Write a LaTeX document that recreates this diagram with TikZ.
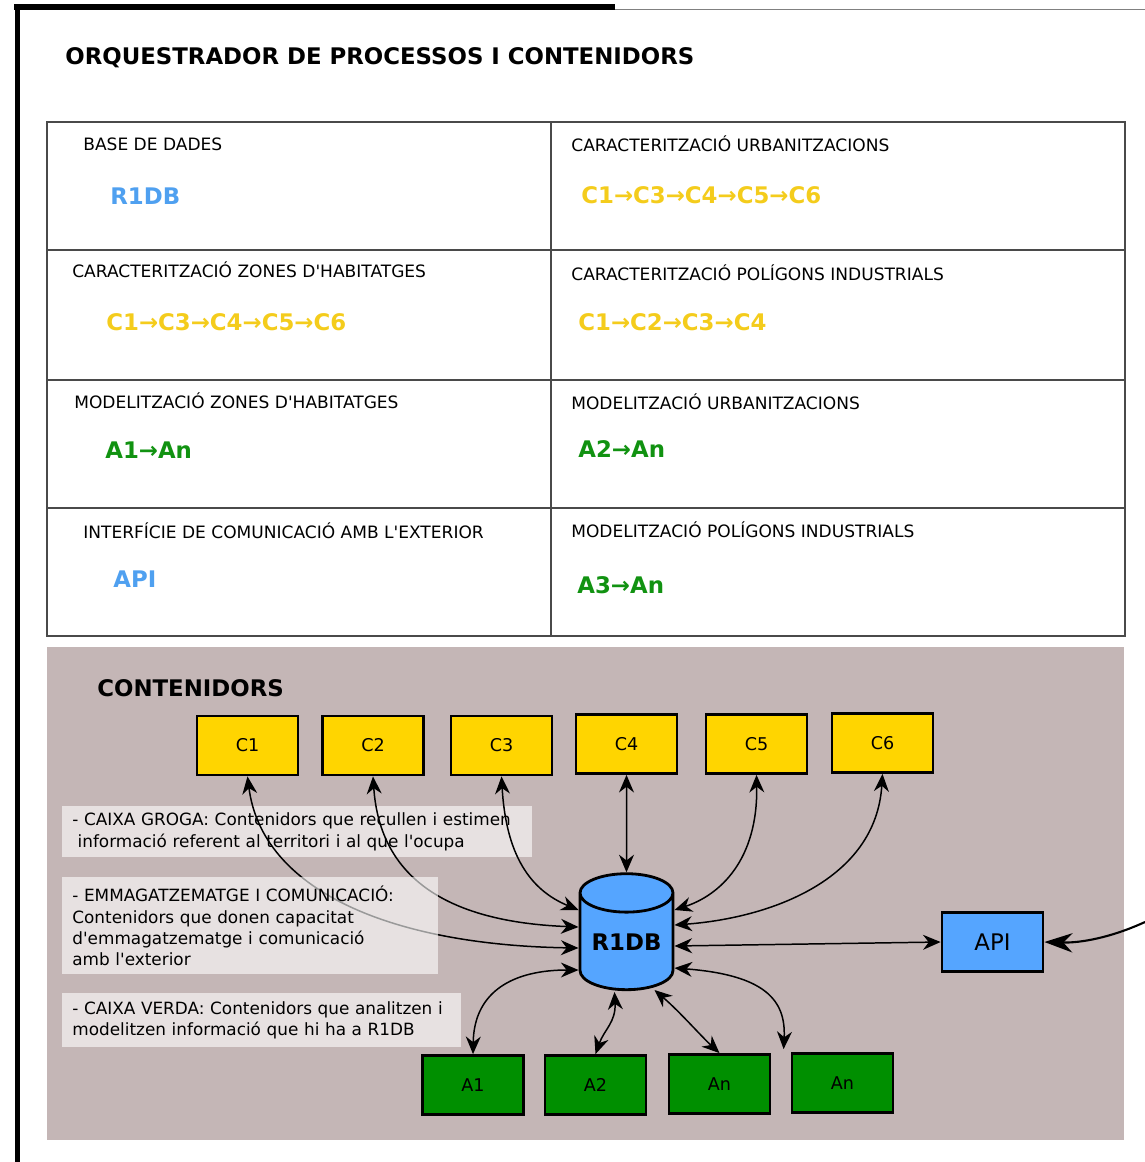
\documentclass[tikz,border=0pt]{standalone}
\usepackage{fontspec}
\setmainfont{DejaVu Sans}
\usetikzlibrary{shapes.geometric,arrows.meta,calc}
\definecolor{boxyellow}{HTML}{FFD500}
\definecolor{seqyellow}{HTML}{F4CC1C}
\definecolor{dbblue}{HTML}{55A5FF}
\definecolor{txtblue}{HTML}{4FA0F0}
\definecolor{boxgreen}{HTML}{008F00}
\definecolor{txtgreen}{HTML}{119211}
\definecolor{panel}{HTML}{C4B6B6}
\definecolor{gridline}{HTML}{4A4A4A}
\newcommand{\cellfont}{\fontsize{9.7}{11}\selectfont}
\newcommand{\seqfont}{\fontsize{13}{15}\selectfont\bfseries}
\newcommand{\ap}{\textquotesingle}
\begin{document}
\begin{tikzpicture}[x=0.02cm, y=-0.02cm,
  celltext/.style={anchor=base west, inner sep=0pt, font=\cellfont},
  seqtext/.style={anchor=base west, inner sep=0pt, font=\seqfont},
  cbox/.style={draw=black, line width=1.6pt, fill=boxyellow, minimum width=2.02cm,
    minimum height=1.18cm, inner sep=0pt, font=\fontsize{10}{12}\selectfont},
  abox/.style={cbox, fill=boxgreen},
  link/.style={{Stealth[length=10pt,width=8.5pt]}-{Stealth[length=10pt,width=8.5pt]}, line width=0.85pt},
  note/.style={anchor=north west, fill=white, fill opacity=0.6, text opacity=1, align=left,
    inner xsep=0.2cm, inner ysep=0pt, font=\fontsize{9.6}{12}\selectfont},
]
\useasboundingbox (0,0) rectangle (1145,1162);
% frame
\draw[line width=3.4pt] (14,7) -- (615,7);
\draw[gray, line width=0.8pt] (615,9.5) -- (1145,9.5);
\draw[line width=3.4pt] (17.5,5) -- (17.5,1162);
\node[anchor=base west, inner sep=0pt, font=\fontsize{13}{15}\selectfont\bfseries] (title) at (65,65) {ORQUESTRADOR DE PROCESSOS I CONTENIDORS};

% table of processes
\draw[gridline, line width=0.7pt] (47,122) rectangle (1125,636);
\draw[gridline, line width=0.7pt] (551,122) -- (551,636);
\foreach \y in {250,380,508}
  \draw[gridline, line width=0.7pt] (47,\y) -- (1125,\y);
\node[celltext] (t1) at (83,151) {BASE DE DADES};
\node[seqtext, txtblue] (s1) at (110,205) {R1DB};
\node[celltext] (t2) at (571,152) {CARACTERITZACIÓ URBANITZACIONS};
\node[seqtext, seqyellow] (s2) at (581,204) {C1→C3→C4→C5→C6};
\node[celltext] (t3) at (72,277) {CARACTERITZACIÓ ZONES D\ap HABITATGES};
\node[seqtext, seqyellow] (s3) at (106,330) {C1→C3→C4→C5→C6};
\node[celltext] (t4) at (571,280) {CARACTERITZACIÓ POLÍGONS INDUSTRIALS};
\node[seqtext, seqyellow] (s4) at (578,330) {C1→C2→C3→C4};
\node[celltext] (t5) at (74,408) {MODELITZACIÓ ZONES D\ap HABITATGES};
\node[seqtext, txtgreen] (s5) at (105,458) {A1→An};
\node[celltext] (t6) at (571,409) {MODELITZACIÓ URBANITZACIONS};
\node[seqtext, txtgreen] (s6) at (578,457) {A2→An};
\node[celltext] (t7) at (83,538) {INTERFÍCIE DE COMUNICACIÓ AMB L\ap EXTERIOR};
\node[seqtext, txtblue] (s7) at (113,587) {API};
\node[celltext] (t8) at (571,537) {MODELITZACIÓ POLÍGONS INDUSTRIALS};
\node[seqtext, txtgreen] (s8) at (577,593) {A3→An};

% containers
\fill[panel] (47,647) rectangle (1124,1140);
\node[anchor=base west, inner sep=0pt, font=\fontsize{13}{15}\selectfont\bfseries] (cont) at (97,696) {CONTENIDORS};
\node[note, minimum width=9.4cm, minimum height=1.02cm, text width=9.0cm] (note1) at (62,806)
  {- CAIXA GROGA: Contenidors que recullen i estimen\\\hspace*{3pt}informació referent al territori i al que l\ap ocupa};

\node[cbox] (C1) at (247.5,745.5) {C1};
\node[cbox] (C2) at (373,745.5) {C2};
\node[cbox] (C3) at (501.5,745.5) {C3};
\node[cbox] (C4) at (626.5,744) {C4};
\node[cbox] (C5) at (756.5,744) {C5};
\node[cbox] (C6) at (882.5,743) {C6};
\node[abox] (A1) at (473,1085) {A1};
\node[abox] (A2) at (595.5,1085) {A2};
\node[abox] (An3) at (719.5,1084) {An};
\node[abox] (An4) at (842.5,1083) {An};
\node[cbox, fill=dbblue, font=\fontsize{13}{15}\selectfont] (API) at (992.5,942) {API};
\node[cylinder, shape border rotate=90, draw=black, line width=1.6pt, fill=dbblue,
  minimum width=1.86cm, minimum height=2.32cm, aspect=0.55, inner sep=0pt,
  font=\fontsize{13}{15}\selectfont\bfseries] (R1DB) at (626.5,942) {R1DB};

\coordinate (dbW1) at ($(R1DB.center)+(-48,-32)$);
\coordinate (dbW2) at ($(R1DB.center)+(-48,-15)$);
\coordinate (dbW3) at ($(R1DB.center)+(-48,6)$);
\coordinate (dbW4) at ($(R1DB.center)+(-48,28)$);
\coordinate (dbE1) at ($(R1DB.center)+(48,-32)$);
\coordinate (dbE2) at ($(R1DB.center)+(48,-17)$);
\coordinate (dbE3) at ($(R1DB.center)+(48,4)$);
\coordinate (dbE4) at ($(R1DB.center)+(48,26)$);
\coordinate (dbS1) at ($(R1DB.center)+(-12,50)$);
\coordinate (dbS2) at ($(R1DB.center)+(28,48)$);
\coordinate (an4in) at ($(An4.north west)+(-7,-3)$);
\coordinate (ext) at (1145,922);

\draw[link] (C3.south) .. controls (506,855) and (530,890) .. (dbW1);
\draw[link] (C2.south) .. controls (380,880) and (450,922) .. (dbW2);
\draw[link] (C1.south) .. controls (262,890) and (390,945) .. (dbW3);
\draw[link] (A1.north) .. controls (474,990) and (515,970) .. (dbW4);
\draw[link] (C4.south) -- (R1DB.north);
\draw[link] (C5.south) .. controls (758,860) and (720,895) .. (dbE1);
\draw[link] (C6.south) .. controls (876,880) and (770,918) .. (dbE2);
\draw[link] (dbE3) -- (API.west);
\draw[link] (dbE4) .. controls (765,975) and (786,1000) .. (an4in);
\draw[link] (dbS2) .. controls (680,1012) and (700,1035) .. (An3.north);
\draw[link] (dbS1) .. controls (616,1022) and (604,1030) .. (A2.north);
\draw[-{Stealth[length=16pt,width=11pt]}, line width=1.2pt] (ext) .. controls (1110,938) and (1080,943) .. (API.east);

\node[note, minimum width=7.52cm, minimum height=1.94cm, text width=7.12cm] (note2) at (62,877)
  {- EMMAGATZEMATGE I COMUNICACIÓ:\\Contenidors que donen capacitat\\d\ap emmagatzematge i comunicació\\amb l\ap exterior};
\node[note, minimum width=7.98cm, minimum height=1.08cm, text width=7.58cm] (note3) at (62,993)
  {- CAIXA VERDA: Contenidors que analitzen i\\modelitzen informació que hi ha a R1DB};
\end{tikzpicture}
\end{document}
